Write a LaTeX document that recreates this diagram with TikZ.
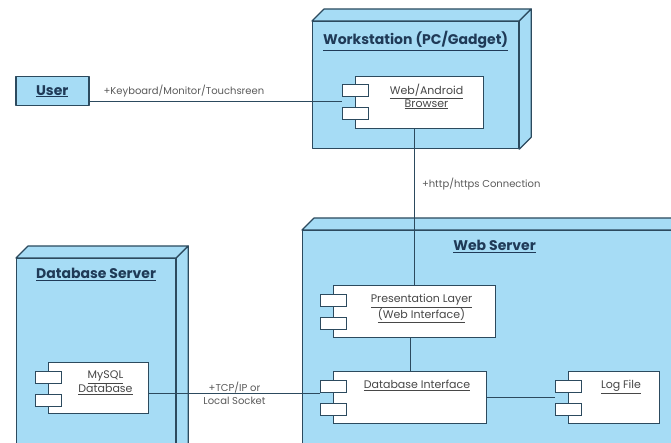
\documentclass[tikz,border=0pt]{standalone}
\usepackage{fontspec}
\setmainfont{Poppins}
\usetikzlibrary{positioning}

\definecolor{nodefill}{HTML}{A6DCF5}
\definecolor{nodeline}{HTML}{2C4A5E}
\definecolor{titlecol}{HTML}{1F3A57}
\definecolor{labelgray}{HTML}{5A5A5A}

\tikzset{
  nodeface/.style={draw=nodeline, fill=nodefill, line width=1.2pt, line join=round},
  nodebox/.style={nodeface, rectangle, inner sep=0pt, anchor=north west},
  nodetitle/.style={font=\bfseries\fontsize{14}{16}\selectfont, text=titlecol, inner sep=0pt},
  compbox/.style={draw=nodeline, fill=white, line width=1pt, rectangle, anchor=north west, inner sep=0pt, minimum height=52pt},
  comptext/.style={font=\fontsize{11}{11.5}\selectfont, text=black!72, align=center, inner sep=0pt},
  compport/.style={draw=nodeline, fill=white, line width=1pt},
  wire/.style={draw=nodeline, line width=1pt},
  wiretext/.style={font=\fontsize{10}{13}\selectfont, text=labelgray, inner sep=1pt},
}

% top and right faces of a 3d node box
\newcommand{\boxfaces}[1]{%
  \draw[nodeface] (#1.north west) -- ++(12,-12) -- ([shift={(12,-12)}]#1.north east) -- (#1.north east) -- cycle;
  \draw[nodeface] (#1.north east) -- ++(12,-12) -- ([shift={(12,-12)}]#1.south east) -- (#1.south east) -- cycle;
}
% the two small ports on the left side of a component
\newcommand{\compports}[1]{%
  \foreach \dy in {9,32}
    \draw[compport] ([shift={(-13,\dy)}]#1.north west) rectangle ++(26,12);
}

\begin{document}
\begin{tikzpicture}[x=1pt, y=-1pt]
\useasboundingbox (0,0) rectangle (671,443);
\clip (0,0) rectangle (671,443);

% nodes
\node[nodebox, minimum width=206pt, minimum height=127pt] (ws) at (312,21) {};
\boxfaces{ws}
\node[nodetitle, below=10pt of ws.north] (ws-title) {\underline{Workstation (PC/Gadget)}};

\node[nodebox, minimum width=384pt, minimum height=240pt] (web) at (302,230) {};
\boxfaces{web}
\node[nodetitle, below=10pt of web.north] (web-title) {\underline{Web Server}};

\node[nodebox, minimum width=159pt, minimum height=210pt] (dbs) at (16,258) {};
\boxfaces{dbs}
\node[nodetitle, below=10pt of dbs.north] (dbs-title) {\underline{Database Server}};

\node[nodebox, nodetitle, line width=1.5pt, minimum width=73pt, minimum height=29pt] (user) at (15,76) {\underline{User}};

% components
\node[compbox, minimum width=128pt] (browser) at (355,76) {};
\compports{browser}
\node[comptext, below=8pt of browser.north, xshift=7pt] (browser-txt) {\underline{Web/Android}\\\underline{Browser}};

\node[compbox, minimum width=162pt] (pres) at (333,285) {};
\compports{pres}
\node[comptext, below=9pt of pres.north, xshift=7pt] (pres-txt) {\underline{Presentation Layer}\\\underline{(Web Interface)}};

\node[compbox, minimum width=153pt] (dbi) at (333,371) {};
\compports{dbi}
\node[comptext, below=9pt of dbi.north, xshift=7pt] (dbi-txt) {\underline{Database Interface}};

\node[compbox, minimum width=91pt] (log) at (568,371) {};
\compports{log}
\node[comptext, below=9pt of log.north, xshift=7pt] (log-txt) {\underline{Log File}};

\node[compbox, minimum width=100pt, minimum height=51pt] (mysql) at (48,362) {};
\compports{mysql}
\node[comptext, below=9pt of mysql.north, xshift=7pt] (mysql-txt) {\underline{MySQL}\\\underline{Database}};

% connections
\coordinate (browser-in) at ([shift={(-13,26)}]browser.north west);
\coordinate (dbi-in) at ([shift={(-13,22)}]dbi.north west);
\coordinate (log-in) at ([shift={(-13,26)}]log.north west);

\draw[wire] (user.east |- browser-in) -- (browser-in)
  node[wiretext, pos=0.05, above right=3pt and 0pt] {+Keyboard/Monitor/Touchsreen};
\draw[wire] (pres.north |- browser.south) -- (pres.north)
  node[wiretext, pos=0.35, right=6pt] {+http/https Connection};
\draw[wire] (dbi.north |- pres.south) -- (dbi.north);
\draw[wire] (mysql.east |- dbi-in) -- (dbi-in)
  node[wiretext, midway, align=center] {+TCP/IP or\\Local Socket};
\draw[wire] (dbi.east |- log-in) -- (log-in);
\end{tikzpicture}
\end{document}
